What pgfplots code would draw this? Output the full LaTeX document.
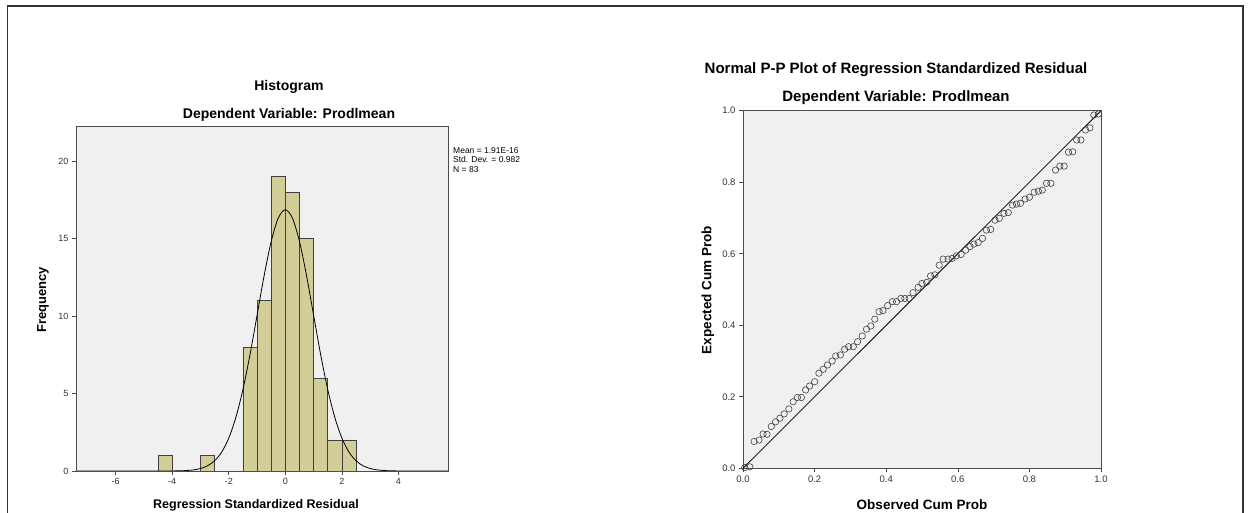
\documentclass[border=0pt]{standalone}
\usepackage{fontspec}
\setmainfont{Liberation Sans}
\usepackage{pgfplots}
\pgfplotsset{compat=1.18}
\definecolor{bg}{RGB}{240,240,240}
\definecolor{barfill}{RGB}{211,206,152}
\begin{document}
\begin{tikzpicture}[x=1pt,y=1pt]
\useasboundingbox (0,0) rectangle (1250,513);
\draw[line width=1.5pt, black!80] (7.5,0) -- (7.5,507) -- (1243,507) -- (1243,0);

% ---------------- Histogram ----------------
\begin{axis}[at={(76pt,42pt)}, anchor=south west, scale only axis,
  width=372pt, height=345pt,
  xmin=-7.4, xmax=5.75, ymin=0, ymax=22.26,
  axis background/.style={fill=bg},
  axis line style={black!70, line width=0.8pt},
  xtick={-6,-4,...,4}, ytick={0,5,...,20},
  tick align=outside, major tick length=4pt,
  tick style={black!70, line width=0.6pt},
  xtick pos=bottom, ytick pos=left,
  ticklabel style={font=\fontsize{9}{10}\selectfont, black!80},
  /pgf/number format/assume math mode=true,
]
\addplot[ybar interval, fill=barfill, draw=black!75, line width=0.7pt] coordinates {
(-4.5,1) (-4,0) (-3.5,0) (-3,1) (-2.5,0) (-2,0) (-1.5,8) (-1,11) (-0.5,19)
(0,18) (0.5,15) (1,6) (1.5,2) (2,2) (2.5,0)};
\addplot[black, line width=0.8pt, smooth, mark=none] coordinates {
(-7.4,0) (-5,0) (-4.5,0.0005) (-4,0.0042) (-3.75,0.0115) (-3.5,0.0294) (-3.25,0.0705)
(-3,0.159) (-2.75,0.334) (-2.5,0.66) (-2.25,1.22) (-2,2.12) (-1.75,3.45) (-1.5,5.25)
(-1.25,7.50) (-1,10.04) (-0.75,12.60) (-0.5,14.81) (-0.25,16.32) (0,16.86)
(0.25,16.32) (0.5,14.81) (0.75,12.60) (1,10.04) (1.25,7.50) (1.5,5.25) (1.75,3.45)
(2,2.12) (2.25,1.22) (2.5,0.66) (2.75,0.334) (3,0.159) (3.25,0.0705) (3.5,0.0294)
(3.75,0.0115) (4,0.0042) (4.5,0.0005) (5,0) (5.75,0)};
\end{axis}

\node[font=\bfseries\fontsize{14}{16}\selectfont] at (289,426) {Histogram};
\node[font=\bfseries\fontsize{14}{16}\selectfont] at (289,398) {Dependent Variable: Prodlmean};
\node[font=\bfseries\fontsize{12.5}{15}\selectfont] at (256,8) {Regression Standardized Residual};
\node[font=\bfseries\fontsize{13}{15}\selectfont, rotate=90] at (43,213) {Frequency};
\node[font=\fontsize{8.5}{9.8}\selectfont, anchor=north west, align=left, inner sep=0pt] at (453,366)
  {Mean = 1.91E-16\\Std. Dev. = 0.982\\N = 83};

% ---------------- P-P plot ----------------
\begin{axis}[at={(743pt,44.7pt)}, anchor=south west, scale only axis,
  width=358pt, height=357.6pt,
  xmin=0, xmax=1, ymin=0, ymax=1,
  axis background/.style={fill=bg},
  axis line style={black!70, line width=0.8pt},
  xtick={0,0.2,...,1}, ytick={0,0.2,...,1},
  xticklabels={0.0,0.2,0.4,0.6,0.8,1.0},
  yticklabels={0.0,0.2,0.4,0.6,0.8,1.0},
  tick align=outside, major tick length=4pt,
  tick style={black!70, line width=0.6pt},
  xtick pos=bottom, ytick pos=left,
  ticklabel style={font=\fontsize{9.5}{10}\selectfont, black!80},
  clip=false,
]
\addplot[black, line width=0.8pt, mark=none] coordinates {(0,0) (1,1)};
\addplot[only marks, mark=o, mark size=3.2pt, mark options={black!75, line width=0.6pt}] coordinates {
(0.005,0.002) (0.019,0.004) (0.031,0.075) (0.045,0.079) (0.056,0.096) (0.067,0.095)
(0.079,0.117) (0.091,0.130) (0.103,0.140) (0.115,0.152) (0.128,0.166) (0.140,0.186)
(0.152,0.198) (0.163,0.198) (0.175,0.219) (0.186,0.230) (0.200,0.242) (0.212,0.266)
(0.224,0.277) (0.236,0.289) (0.249,0.300) (0.259,0.314) (0.272,0.317) (0.284,0.333)
(0.295,0.340) (0.308,0.340) (0.320,0.354) (0.333,0.370) (0.345,0.389) (0.357,0.398)
(0.368,0.417) (0.380,0.438) (0.391,0.441) (0.404,0.455) (0.417,0.466) (0.429,0.466)
(0.441,0.475) (0.452,0.475) (0.464,0.475) (0.475,0.491) (0.489,0.506) (0.500,0.517)
(0.513,0.520) (0.524,0.538) (0.536,0.541) (0.548,0.568) (0.559,0.585) (0.573,0.585)
(0.584,0.587) (0.596,0.594) (0.609,0.598) (0.622,0.610) (0.634,0.620) (0.645,0.627)
(0.657,0.631) (0.669,0.643) (0.680,0.666) (0.692,0.668) (0.704,0.694) (0.716,0.699)
(0.729,0.713) (0.741,0.715) (0.753,0.736) (0.764,0.739) (0.775,0.741) (0.788,0.753)
(0.800,0.758) (0.813,0.772) (0.825,0.775) (0.836,0.778) (0.848,0.797) (0.860,0.797)
(0.873,0.834) (0.885,0.845) (0.897,0.845) (0.909,0.884) (0.921,0.885) (0.932,0.918)
(0.944,0.918) (0.957,0.946) (0.969,0.952) (0.980,0.988) (0.993,0.991)};
\end{axis}

\node[font=\bfseries\fontsize{15}{17}\selectfont] at (896,443) {Normal P-P Plot of Regression Standardized Residual};
\node[font=\bfseries\fontsize{15}{17}\selectfont] at (896,415) {Dependent Variable: Prodlmean};
\node[font=\bfseries\fontsize{13.5}{15}\selectfont] at (922,8) {Observed Cum Prob};
\node[font=\bfseries\fontsize{13.5}{15}\selectfont, rotate=90] at (708,223) {Expected Cum Prob};
\end{tikzpicture}
\end{document}
